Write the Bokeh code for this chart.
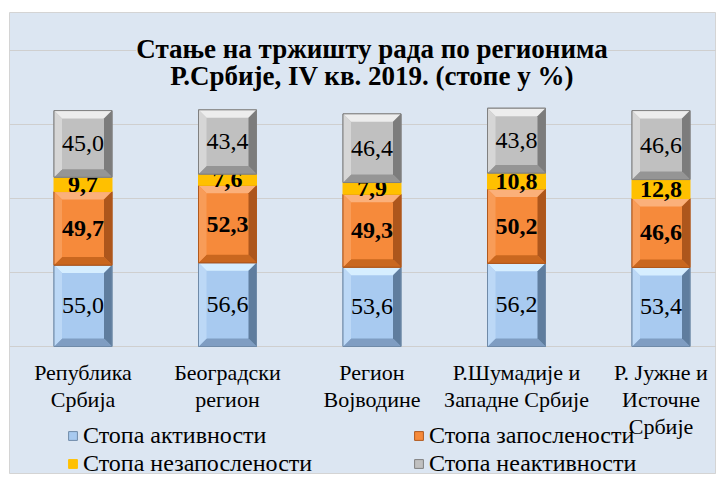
from bokeh.plotting import figure
from bokeh.models import Range1d, FixedTicker, Label, Legend, LegendItem, ColumnDataSource
from bokeh.core.properties import value
from bokeh.embed import file_html
from bokeh.resources import INLINE

# ---------------- data ----------------
categories = ["Република\nСрбија", "Београдски\nрегион", "Регион\nВојводине",
              "Р.Шумадије и\nЗападне Србије", "Р. Јужне и\nИсточне\nСрбије"]
activity = [55.0, 56.6, 53.6, 56.2, 53.4]
employment = [49.7, 52.3, 49.3, 50.2, 46.6]
unemployment = [9.7, 7.6, 7.9, 10.8, 12.8]
inactivity = [45.0, 43.4, 46.4, 43.8, 46.6]
series_names = ["Стопа активности", "Стопа запослености",
                "Стопа незапослености", "Стопа неактивности"]
title_lines = ["Стање на тржишту рада по регионима",
               "Р.Србије, IV кв. 2019. (стопе у %)"]
grid_ticks = [0, 50, 100, 150, 200]

# ---------------- layout ----------------
W, H = 716, 474
FRAME_L, FRAME_T = 9, 12           # figure px
FRAME_R, FRAME_B = W, H
PX_X = 144.5                       # px per category
FIRST_CENTER = 82.5
PX_Y = 1.48                        # px per unit
BASE = 346                         # figure y of zero

def yv(py):
    return (BASE - py) / PX_Y

BG = "#dce6f2"
FONT_NAME = "Liberation Serif"
FONT = value(FONT_NAME)

p = figure(width=W, height=H, output_backend="svg", toolbar_location=None,
           x_axis_location=None, y_axis_location=None,
           x_range=Range1d(-(FIRST_CENTER - FRAME_L) / PX_X, (FRAME_R - FIRST_CENTER) / PX_X),
           y_range=Range1d(yv(FRAME_B), yv(FRAME_T)),
           min_border_left=FRAME_L, min_border_top=FRAME_T,
           min_border_right=0, min_border_bottom=0)
p.background_fill_color = BG
p.border_fill_color = "white"
p.outline_line_color = "#d4d4d4"
p.xgrid.visible = False
p.ygrid.ticker = FixedTicker(ticks=grid_ticks)
p.ygrid.grid_line_color = "#cfcfcf"

idx = list(range(len(categories)))
bw = 58 / PX_X
bx = 8 / PX_X
by = 8 / PX_Y

styles = [
    dict(face="#a8caf0", top="#d6eeff", left="#bcd8f6", right="#5f7d9e", bottom="#7f9dc2", line="#6f8aa8", bevel=True, bold=False),
    dict(face="#f68a3b", top="#fbb07a", left="#f89c58", right="#ad561c", bottom="#c9671f", line="#b0581c", bevel=True, bold=True),
    dict(face="#ffc000", line="#ffc000", bevel=False, bold=True),
    dict(face="#c0c0c0", top="#ededed", left="#d6d6d6", right="#7c7c7c", bottom="#959595", line="#808080", bevel=True, bold=False),
]
series = [activity, employment, unemployment, inactivity]

bottoms = [0.0] * len(idx)
face_renderers = []
for vals, st in zip(series, styles):
    tops = [b + v for b, v in zip(bottoms, vals)]
    src = ColumnDataSource(dict(left=[i - bw / 2 for i in idx], right=[i + bw / 2 for i in idx],
                                bottom=bottoms, top=tops))
    r = p.quad(left="left", right="right", bottom="bottom", top="top", source=src,
               fill_color=st["face"], line_color=st["line"], line_width=1)
    face_renderers.append(r)
    if st["bevel"]:
        xs, ys, cols = [], [], []
        for i, b, t in zip(idx, bottoms, tops):
            x0, x1 = i - bw / 2, i + bw / 2
            xs.append([x0, x1, x1 - bx, x0 + bx]); ys.append([t, t, t - by, t - by]); cols.append(st["top"])
            xs.append([x0, x1, x1 - bx, x0 + bx]); ys.append([b, b, b + by, b + by]); cols.append(st["bottom"])
            xs.append([x0, x0 + bx, x0 + bx, x0]); ys.append([b, b + by, t - by, t]); cols.append(st["left"])
            xs.append([x1, x1 - bx, x1 - bx, x1]); ys.append([b, b + by, t - by, t]); cols.append(st["right"])
        p.patches(xs=xs, ys=ys, fill_color=cols, line_color=None)
        p.quad(left="left", right="right", bottom="bottom", top="top", source=src,
               fill_color=None, line_color=st["line"], line_width=1)
    mids = [(b + t) / 2 for b, t in zip(bottoms, tops)]
    labels = [f"{v:.1f}".replace(".", ",") for v in vals]
    p.text(x=idx, y=mids, text=labels, text_align="center", text_baseline="middle",
           text_font=FONT, text_font_size="24px", text_color="black",
           text_font_style="bold" if st["bold"] else "normal")
    bottoms = tops

# category labels
p.text(x=idx, y=[yv(359)] * len(idx), text=categories, text_align="center", text_baseline="top",
       text_font=FONT, text_font_size="22px", text_color="black", text_line_height=1.09)

# title (first line masks the gridline behind it)
for k, (line, py) in enumerate(zip(title_lines, [48, 75])):
    lab = Label(x=2, y=yv(py), text=line, text_align="center", text_baseline="middle",
                text_font=FONT_NAME, text_font_size="27px", text_font_style="bold",
                text_color="black")
    if k == 0:
        lab.background_fill_color = BG
    p.add_layout(lab)

# legends (two columns)
def make_legend(items, x):
    return Legend(items=items, location=(x, -3), orientation="vertical",
                  background_fill_alpha=0, border_line_alpha=0,
                  label_text_font=FONT_NAME, label_text_font_size="24px", label_text_color="black",
                  glyph_width=11, glyph_height=11, label_standoff=5, spacing=0,
                  padding=0, margin=0, label_height=28)

leg1 = make_legend([LegendItem(label=series_names[0], renderers=[face_renderers[0]]),
                    LegendItem(label=series_names[2], renderers=[face_renderers[2]])], 67 - FRAME_L)
leg2 = make_legend([LegendItem(label=series_names[1], renderers=[face_renderers[1]]),
                    LegendItem(label=series_names[3], renderers=[face_renderers[3]])], 413 - FRAME_L)
p.add_layout(leg1)
p.add_layout(leg2)

open("out.html", "w").write(file_html(p, INLINE))
